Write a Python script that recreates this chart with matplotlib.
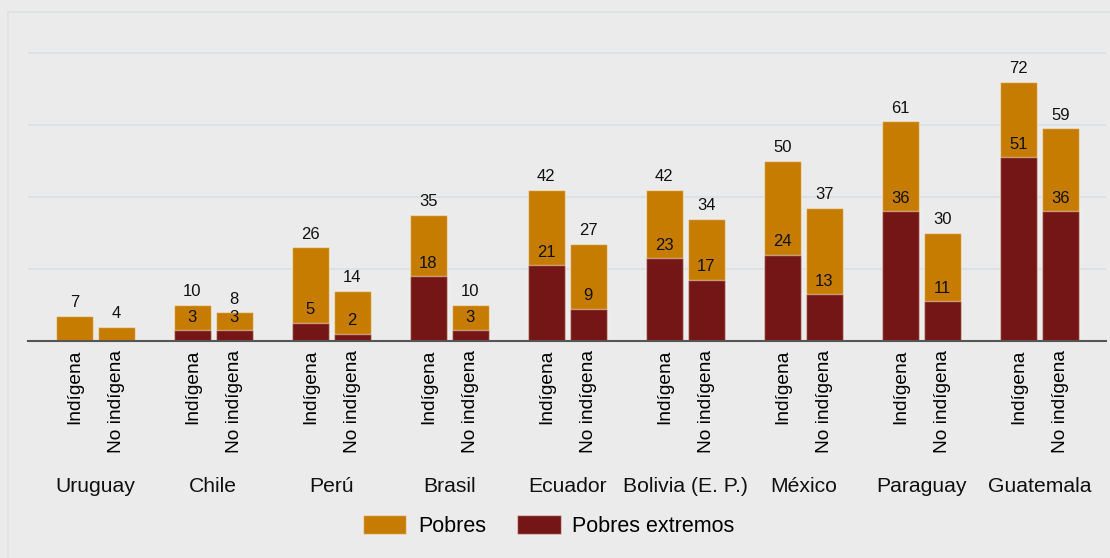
import matplotlib.pyplot as plt
from matplotlib.patches import Rectangle, Patch
import matplotlib.transforms as mtransforms
import numpy as np

plt.rcParams['font.family'] = ['Liberation Sans', 'DejaVu Sans']

# Data
countries = ["Uruguay", "Chile", "Perú", "Brasil", "Ecuador",
             "Bolivia (E. P.)", "México", "Paraguay", "Guatemala"]
groups = ["Indígena", "No indígena"]
pobres_ind = [7, 10, 26, 35, 42, 42, 50, 61, 72]
pobres_no = [4, 8, 14, 10, 27, 34, 37, 30, 59]
extremos_ind = [0, 3, 5, 18, 21, 23, 24, 36, 51]
extremos_no = [0, 3, 2, 3, 9, 17, 13, 11, 36]

c_pobres = "#c67c00"
c_extremos = "#741615"
bg = "#ebebeb"

fig = plt.figure(figsize=(11.1, 5.58), dpi=100)
fig.patch.set_facecolor(bg)
# light frame around the chart area
fig.patches.append(Rectangle((8 / 1110, -0.1), 1.2, 1 - 12 / 558 + 0.1,
                             transform=fig.transFigure, fill=False,
                             edgecolor="#dde2e2", linewidth=1.2))

ax = fig.add_axes([28 / 1110, 217 / 558, 1078 / 1110, 317 / 558])
ax.set_facecolor(bg)

x = np.arange(len(countries))
w = 0.314
off = 0.177
edge = dict(edgecolor=(1, 1, 1, 0.45), linewidth=1)

for pos, pobres, extremos in [(x - off, pobres_ind, extremos_ind),
                              (x + off, pobres_no, extremos_no)]:
    ax.bar(pos, pobres, width=w, color=c_pobres, zorder=2, **edge)
    ax.bar(pos, extremos, width=w, color=c_extremos, zorder=3, **edge)
    for xi, p, e in zip(pos, pobres, extremos):
        ax.annotate(str(p), (xi, p), xytext=(0, 4), textcoords="offset points",
                    ha="center", va="bottom", fontsize=12, color="#111111")
        if e > 0:
            ax.annotate(str(e), (xi, e), xytext=(0, 4), textcoords="offset points",
                        ha="center", va="bottom", fontsize=12, color="#111111",
                        zorder=4)

ax.set_xlim(-0.57, 8.565)
ax.set_ylim(0, 88)
ax.set_yticks([20, 40, 60, 80])
ax.yaxis.grid(True, color="#d9e0e2", linewidth=1.2, zorder=0)
ax.tick_params(axis="y", left=False, labelleft=False)

ticks = np.concatenate([x - off, x + off])
labels = [groups[0]] * len(x) + [groups[1]] * len(x)
ax.set_xticks(ticks)
ax.set_xticklabels(labels, rotation=90, fontsize=13.8, va="top")
ax.tick_params(axis="x", length=0, pad=6.5)

for s in ["top", "right", "left"]:
    ax.spines[s].set_visible(False)
ax.spines["bottom"].set_color("#555555")
ax.spines["bottom"].set_linewidth(1.5)
ax.spines["bottom"].set_zorder(5)

trans = mtransforms.blended_transform_factory(ax.transData, fig.transFigure)
for xi, name in zip(x, countries):
    ax.text(xi, 1 - 487 / 558, name, transform=trans, ha="center", va="center",
            fontsize=15.2, color="#111111")

handles = [Patch(facecolor=c_pobres, edgecolor=(1, 1, 1, 0.45)),
           Patch(facecolor=c_extremos, edgecolor=(1, 1, 1, 0.45))]
fig.legend(handles, ["Pobres", "Pobres extremos"], loc="center",
           bbox_to_anchor=(549 / 1110, 1 - 526 / 558), ncol=2, frameon=False,
           fontsize=15.5, handlelength=2.0, handleheight=0.95,
           handletextpad=0.55, columnspacing=1.45)

fig.savefig("out.png", dpi=100, facecolor=bg)
